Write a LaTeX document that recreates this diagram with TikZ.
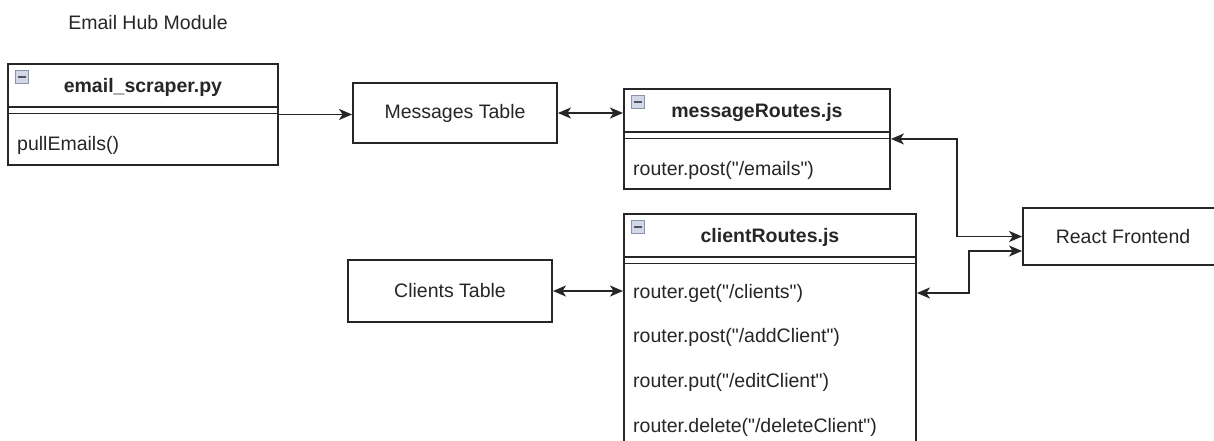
\documentclass[tikz,border=0pt]{standalone}
\usepackage{fontspec}
\setmainfont{Liberation Sans}[Ligatures=TeXOff]
\usetikzlibrary{arrows.meta,calc}
\definecolor{iconfill}{HTML}{D3D8E6}
\definecolor{iconedge}{HTML}{8A93AD}
\definecolor{iconbar}{HTML}{50555F}
\definecolor{ink}{HTML}{262626}
\begin{document}
\begin{tikzpicture}[x=1pt,y=-1pt,
  every node/.style={font=\fontsize{19.5}{23}\selectfont, text=ink},
  line/.style={draw=ink, line width=1.9pt},
  box/.style={line, rectangle, inner sep=0pt, fill=white},
  title/.style={font=\fontsize{19.5}{23}\selectfont\bfseries},
  item/.style={anchor=west, inner sep=0pt},
  icon/.style={draw=iconedge, fill=iconfill, line width=0.8pt, minimum size=13pt, inner sep=0pt,
    path picture={\draw[line width=2pt, iconbar]
      ($(path picture bounding box.west)+(2.5,0)$) -- ($(path picture bounding box.east)+(-2.5,0)$);}},
  tipone/.style={line, -{Stealth[length=13pt,width=11pt,inset=3.5pt]}},
  tiptwo/.style={line, {Stealth[length=13pt,width=11pt,inset=3.5pt]}-{Stealth[length=13pt,width=11pt,inset=3.5pt]}}]

\path[use as bounding box] (0,0) rectangle (1214,440);
\clip (0,0) rectangle (1214,440);

\node (hub) at (148,23) {Email Hub Module};

% email_scraper.py class
\node[box, minimum width=270pt, minimum height=101pt, anchor=north west] (es) at (7,63) {};
\draw[line] ($(es.north west)+(0,44)$) -- ($(es.north east)+(0,44)$);
\draw[line] ($(es.north west)+(0,50.5)$) -- ($(es.north east)+(0,50.5)$);
\node[title] (esT) at ($(es.north)+(0,24)$) {email\_scraper.py};
\node[icon] (esI) at ($(es.north west)+(14.5,13.5)$) {};
\node[item] (esM) at (17,145) {pullEmails()};

% messageRoutes.js class
\node[box, minimum width=266pt, minimum height=100pt, anchor=north west] (mr) at (623,88) {};
\draw[line] ($(mr.north west)+(0,44)$) -- ($(mr.north east)+(0,44)$);
\draw[line] ($(mr.north west)+(0,50.5)$) -- ($(mr.north east)+(0,50.5)$);
\node[title] (mrT) at ($(mr.north)+(0,24)$) {messageRoutes.js};
\node[icon] (mrI) at ($(mr.north west)+(14.5,13.5)$) {};
\node[item] (mrM) at (633,170) {router.post("/emails")};

% clientRoutes.js class
\node[box, minimum width=292pt, minimum height=250pt, anchor=north west] (cr) at (623,213) {};
\draw[line] ($(cr.north west)+(0,44)$) -- ($(cr.north east)+(0,44)$);
\draw[line] ($(cr.north west)+(0,50.5)$) -- ($(cr.north east)+(0,50.5)$);
\node[title] (crT) at ($(cr.north)+(0,24)$) {clientRoutes.js};
\node[icon] (crI) at ($(cr.north west)+(14.5,13.5)$) {};
\node[item] (crGet) at (633,293) {router.get("/clients")};
\node[item] (crAdd) at (633,337) {router.post("/addClient")};
\node[item] (crEdit) at (633,382) {router.put("/editClient")};
\node[item] (crDel) at (633,427) {router.delete("/deleteClient")};

% tables and frontend
\node[box, minimum width=204pt, minimum height=60pt] (msg) at (455,113) {Messages Table};
\node[box, minimum width=204pt, minimum height=62pt] (ct) at (450,291) {Clients Table};
\node[box, minimum width=200pt, minimum height=57pt] (rf) at (1123,236.5) {React Frontend};

% connectors
\coordinate (j1) at (957,0);
\coordinate (j2) at (969,0);
\coordinate (rf2) at ($(rf.west)+(0,14.5)$);
\draw[tipone] (es.east) -- (es.east -| msg.west);
\draw[tiptwo] (msg.east) -- (msg.east -| mr.west);
\draw[tiptwo] (ct.east) -- (ct.east -| cr.west);
\draw[tiptwo] (mr.east) -| (j1 |- rf.west) -- (rf.west);
\draw[tiptwo] (cr.east |- crGet) -| (j2 |- rf2) -- (rf2);
\end{tikzpicture}
\end{document}
